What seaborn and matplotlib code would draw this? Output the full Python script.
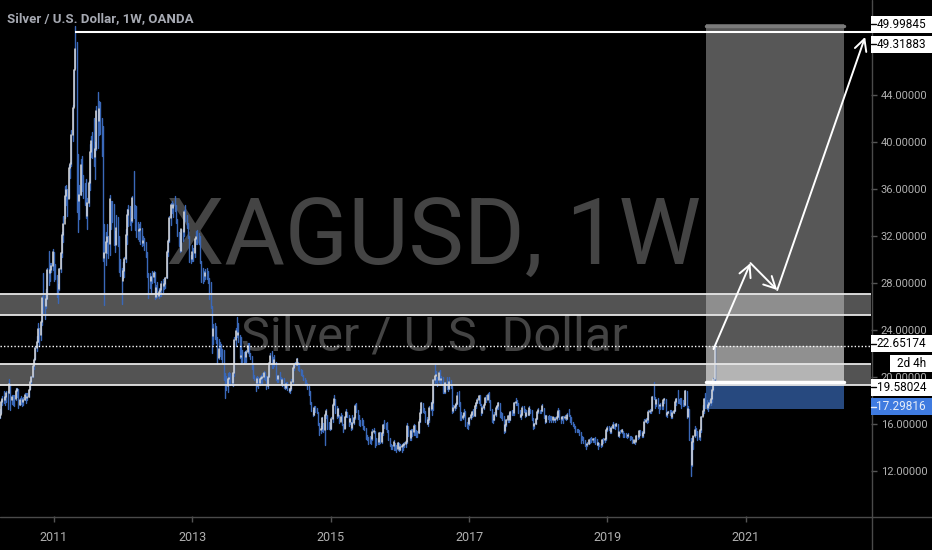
import numpy as np
import pandas as pd
import matplotlib
matplotlib.use('Agg')
import matplotlib.pyplot as plt
import matplotlib.dates as mdates
from matplotlib.patches import Rectangle
from matplotlib.lines import Line2D
import seaborn as sns

W, H = 932, 550

# weekly bars (low, high, close), one list per calendar year
year_starts = ['2010-03-22', '2011-01-03', '2012-01-02', '2013-01-07', '2014-01-06',
               '2015-01-05', '2016-01-04', '2017-01-02', '2018-01-01', '2019-01-07',
               '2020-01-06']

bars_2010 = [(16.5, 17.3, 16.8), (16.9, 18.0, 17.9), (17.6, 18.4, 18.1), (17.8, 18.8, 18.0),
             (17.6, 18.4, 18.3), (17.9, 18.8, 18.6), (17.3, 18.8, 18.6), (18.6, 19.8, 19.4),
             (17.2, 19.4, 18.0), (17.7, 18.5, 18.3), (17.6, 18.5, 18.3), (17.5, 18.5, 18.1),
             (18.0, 19.1, 18.8), (18.3, 19.1, 19.0), (17.4, 19.0, 17.6), (17.6, 18.2, 18.0),
             (17.7, 18.4, 18.0), (17.5, 18.2, 17.9), (17.6, 18.3, 18.0), (18.0, 18.6, 18.5),
             (17.8, 18.6, 18.2), (18.0, 18.6, 18.3), (18.3, 19.0, 18.9), (19.0, 19.7, 19.6),
             (19.4, 20.1, 20.0), (20.0, 21.0, 20.9), (20.7, 21.6, 21.4), (21.5, 22.6, 22.5),
             (22.2, 23.5, 23.0), (23.0, 24.6, 24.1), (22.6, 24.2, 23.6), (23.1, 24.8, 24.7),
             (24.4, 26.9, 26.7), (25.4, 28.8, 26.4), (24.9, 27.0, 26.0), (25.9, 27.5, 26.6),
             (26.6, 29.3, 29.1), (27.8, 30.7, 28.8), (28.2, 29.7, 29.1), (28.9, 29.7, 29.4),
             (29.1, 30.9, 30.6)]

bars_2011 = [(28.2, 30.6, 28.9), (28.3, 29.6, 28.7), (26.8, 28.7, 27.6), (26.3, 27.9, 27.5),
             (27.4, 29.3, 29.2), (28.9, 30.6, 30.5), (30.2, 32.3, 32.1), (31.5, 33.7, 33.0),
             (33.5, 36.2, 35.4), (34.6, 36.3, 35.9), (33.7, 36.0, 35.1), (35.2, 38.0, 37.8),
             (36.9, 38.3, 38.1), (37.9, 41.0, 40.6), (40.1, 43.1, 42.9), (43.0, 46.2, 46.1),
             (46.3, 49.8, 47.9), (34.0, 48.5, 35.3), (32.3, 39.0, 35.0), (33.4, 36.3, 35.5),
             (35.5, 38.5, 38.0), (35.8, 38.8, 36.0), (35.2, 37.2, 36.0), (34.6, 36.5, 35.6),
             (33.5, 36.8, 33.7), (32.6, 35.2, 34.8), (34.5, 36.7, 36.5), (35.9, 39.8, 39.1),
             (38.7, 40.5, 40.1), (38.6, 40.8, 39.6), (37.9, 42.0, 38.7), (36.8, 40.0, 39.4),
             (39.3, 43.0, 42.6), (39.5, 44.2, 41.8), (40.6, 43.5, 42.8), (40.7, 43.4, 41.9),
             (38.8, 42.0, 40.0), (29.9, 41.3, 30.1), (26.1, 33.0, 30.5), (29.5, 32.3, 31.5),
             (30.5, 33.0, 31.9), (30.1, 32.0, 31.3), (30.4, 35.5, 35.1), (32.6, 35.0, 34.4),
             (33.2, 35.0, 34.3), (31.2, 34.7, 31.8), (30.6, 32.4, 31.2), (31.3, 33.8, 32.7),
             (31.1, 33.6, 32.1), (28.9, 32.0, 29.3), (28.6, 30.0, 28.9), (26.2, 29.3, 28.2)]

bars_2012 = [(28.4, 29.8, 29.0), (28.5, 30.2, 30.0), (29.8, 32.6, 32.1), (31.3, 34.3, 33.8),
             (32.8, 34.6, 34.2), (32.9, 34.5, 33.4), (32.5, 33.5, 33.3), (33.2, 35.4, 35.2),
             (33.5, 37.5, 34.6), (32.5, 34.6, 33.7), (31.9, 34.5, 32.6), (31.7, 33.2, 32.4),
             (31.6, 33.0, 32.5), (31.3, 33.2, 32.6), (31.1, 32.7, 31.4), (31.2, 32.0, 31.6),
             (30.8, 31.8, 31.2), (30.2, 31.5, 30.4), (28.5, 30.6, 28.9), (26.7, 28.8, 28.6),
             (27.6, 28.8, 28.2), (27.1, 28.6, 28.5), (28.0, 29.0, 28.5), (28.1, 29.0, 28.8),
             (26.6, 28.9, 26.8), (26.7, 27.8, 27.6), (26.8, 28.1, 26.9), (26.7, 27.6, 27.2),
             (26.9, 27.6, 27.4), (26.9, 28.2, 27.9), (27.2, 28.3, 27.7), (27.5, 28.2, 27.9),
             (27.6, 28.5, 28.4), (28.4, 30.8, 30.6), (30.3, 31.7, 31.6), (31.5, 33.7, 33.5),
             (32.9, 34.8, 34.6), (33.9, 35.0, 34.4), (33.6, 34.8, 34.6), (34.1, 35.4, 34.6),
             (33.1, 34.6, 33.4), (32.0, 33.4, 32.2), (31.1, 32.3, 31.5), (30.6, 32.2, 30.7),
             (30.7, 32.6, 32.6), (31.6, 32.6, 32.3), (32.0, 34.2, 34.0), (33.3, 34.6, 33.7),
             (32.7, 33.8, 33.0), (31.8, 33.1, 31.9), (29.8, 32.0, 30.0), (29.7, 30.4, 30.0),
             (29.9, 31.2, 30.6)]

bars_2013 = [(29.9, 31.0, 30.5), (30.2, 31.8, 31.7), (31.3, 32.4, 31.9), (31.3, 32.5, 31.9),
             (31.3, 32.2, 31.7), (29.7, 32.0, 29.9), (28.1, 29.9, 28.8), (28.0, 29.3, 28.7),
             (28.2, 29.0, 28.6), (28.3, 29.2, 28.8), (28.3, 29.3, 28.7), (28.0, 29.0, 28.3),
             (26.6, 28.4, 27.5), (25.9, 28.1, 26.0), (22.0, 26.0, 23.5), (22.8, 24.5, 24.1),
             (23.2, 24.6, 23.8), (22.9, 24.3, 23.2), (21.1, 23.4, 21.6), (21.5, 23.2, 22.4),
             (21.8, 23.0, 22.4), (21.5, 22.8, 21.7), (21.2, 22.4, 21.6), (19.7, 22.3, 19.8),
             (18.2, 20.3, 19.7), (18.9, 20.1, 19.2), (18.7, 20.3, 19.8), (19.4, 20.4, 19.9),
             (19.3, 20.3, 19.6), (19.3, 20.2, 19.5), (19.2, 20.4, 20.3), (20.1, 23.4, 23.1),
             (22.6, 24.2, 23.9), (23.4, 25.1, 23.6), (23.0, 24.6, 23.7), (21.6, 23.6, 21.7),
             (21.2, 23.4, 21.8), (21.3, 22.3, 21.7), (21.2, 22.1, 21.7), (21.3, 22.2, 21.7),
             (21.3, 22.3, 22.1), (22.0, 22.9, 22.6), (21.8, 22.9, 22.0), (21.5, 22.0, 21.8),
             (20.7, 21.8, 20.9), (19.9, 21.0, 20.1), (19.7, 20.2, 19.9), (18.8, 20.0, 19.5),
             (19.2, 20.1, 19.8), (19.1, 20.0, 19.5), (19.3, 20.1, 19.8), (19.5, 20.2, 19.9)]

bars_2014 = [(19.4, 20.3, 20.0), (19.8, 20.5, 20.3), (19.7, 20.4, 19.9), (19.0, 20.1, 19.2),
             (19.1, 20.2, 20.0), (20.0, 21.3, 21.2), (21.3, 22.0, 21.8), (20.8, 22.2, 21.1),
             (20.8, 21.7, 21.1), (20.9, 21.9, 21.4), (19.7, 21.3, 19.9), (19.6, 20.1, 19.8),
             (19.6, 20.2, 20.1), (19.8, 20.4, 20.0), (19.4, 20.0, 19.4), (19.2, 19.9, 19.7),
             (19.1, 19.9, 19.2), (19.0, 19.4, 19.1), (19.1, 19.6, 19.4), (18.9, 19.6, 19.0),
             (18.7, 19.1, 18.8), (18.6, 19.1, 19.0), (18.9, 19.8, 19.6), (19.5, 20.9, 20.8),
             (20.6, 21.1, 21.0), (20.9, 21.3, 21.0), (21.0, 21.6, 21.5), (20.6, 21.3, 21.0),
             (20.5, 21.0, 20.6), (20.2, 20.7, 20.4), (20.1, 20.6, 20.4), (19.7, 20.2, 19.8),
             (19.3, 19.9, 19.4), (19.3, 19.7, 19.4), (19.0, 19.5, 19.2), (18.5, 19.2, 18.7),
             (17.7, 18.8, 17.8), (17.1, 17.9, 17.1), (16.7, 17.2, 16.8), (16.8, 17.5, 17.4),
             (17.0, 17.5, 17.3), (16.9, 17.4, 17.0), (15.9, 17.0, 16.1), (15.1, 16.1, 15.5),
             (15.2, 15.8, 15.6), (15.4, 16.6, 16.5), (15.3, 16.1, 15.5), (14.2, 16.9, 16.8),
             (16.5, 17.3, 17.1), (15.6, 16.8, 16.1), (15.6, 16.2, 15.9), (15.5, 16.1, 15.6)]

bars_2015 = [(15.6, 16.6, 16.4), (16.2, 17.8, 17.6), (17.6, 18.5, 18.1), (16.9, 18.1, 17.2),
             (16.5, 17.5, 16.7), (16.6, 17.4, 17.3), (16.1, 16.8, 16.2), (16.3, 16.9, 16.6),
             (15.9, 16.8, 16.0), (15.3, 16.0, 15.6), (15.7, 16.7, 16.6), (16.6, 17.3, 17.0),
             (16.6, 17.0, 16.8), (15.8, 16.8, 16.2), (16.0, 16.5, 16.4), (15.5, 16.2, 15.7),
             (15.6, 16.8, 16.1), (16.0, 16.6, 16.5), (16.4, 17.7, 17.5), (17.0, 17.8, 17.1),
             (16.4, 17.2, 16.7), (15.9, 16.8, 16.1), (15.8, 16.3, 16.1), (15.9, 16.5, 16.1),
             (15.6, 16.3, 15.7), (15.5, 15.8, 15.6), (14.7, 15.7, 15.4), (14.6, 15.1, 14.8),
             (14.3, 14.9, 14.7), (14.4, 15.0, 14.7), (14.3, 14.9, 14.7), (14.6, 15.6, 15.3),
             (15.2, 15.7, 15.4), (14.0, 15.4, 14.6), (14.2, 14.8, 14.6), (14.3, 14.8, 14.5),
             (14.3, 15.3, 15.2), (14.4, 15.3, 14.5), (14.4, 15.3, 15.2), (15.1, 16.0, 15.9),
             (15.7, 16.3, 15.8), (15.6, 16.1, 15.8), (15.3, 16.2, 15.5), (14.6, 15.5, 14.7),
             (14.1, 14.8, 14.2), (13.9, 14.3, 14.1), (13.9, 14.2, 14.1), (13.8, 14.6, 14.5),
             (13.8, 14.4, 13.9), (13.6, 14.2, 13.9), (13.8, 14.5, 14.4), (13.7, 14.4, 13.8)]

bars_2016 = [(13.8, 14.3, 14.0), (13.6, 14.3, 14.1), (13.8, 14.4, 14.2), (14.0, 14.5, 14.3),
             (14.0, 14.6, 14.5), (14.4, 16.1, 15.8), (15.0, 15.8, 15.3), (14.6, 15.5, 14.8),
             (14.6, 15.6, 15.4), (15.0, 15.6, 15.3), (15.1, 16.0, 15.8), (15.1, 15.9, 15.2),
             (14.9, 15.5, 15.2), (14.9, 15.4, 15.2), (15.2, 16.4, 16.2), (16.2, 17.3, 16.9),
             (16.9, 17.9, 17.8), (17.0, 17.8, 17.1), (16.9, 17.4, 17.0), (16.2, 17.1, 16.4),
             (16.0, 16.6, 16.0), (15.8, 16.4, 16.3), (16.2, 17.5, 17.4), (17.2, 17.9, 17.3),
             (16.8, 18.0, 17.8), (17.2, 19.8, 19.7), (19.5, 21.1, 20.1), (19.6, 20.5, 20.2),
             (19.2, 20.0, 19.7), (19.6, 20.5, 20.3), (19.5, 20.6, 19.7), (19.4, 20.1, 19.8),
             (18.6, 20.0, 18.8), (18.6, 19.2, 18.7), (18.6, 19.6, 19.5), (19.0, 20.0, 19.2),
             (18.8, 19.3, 19.0), (19.0, 20.0, 19.6), (19.1, 19.7, 19.2), (16.9, 19.2, 17.1),
             (17.0, 17.6, 17.4), (17.2, 17.7, 17.5), (17.4, 17.9, 17.7), (17.7, 18.7, 18.4),
             (17.5, 18.8, 17.8), (16.3, 17.9, 16.6), (16.3, 17.0, 16.5), (16.4, 16.9, 16.7),
             (16.6, 17.3, 16.9), (15.8, 17.1, 16.0), (15.7, 16.2, 16.0), (15.6, 16.5, 16.0)]

bars_2017 = [(15.9, 16.6, 16.5), (16.4, 16.9, 16.8), (16.6, 17.1, 17.0), (16.7, 17.3, 16.7),
             (16.7, 17.6, 17.5), (17.4, 17.9, 17.8), (17.8, 18.2, 18.0), (17.8, 18.5, 18.4),
             (17.6, 18.5, 17.6), (16.8, 17.7, 16.9), (16.9, 17.5, 17.4), (17.3, 17.8, 17.6),
             (17.9, 18.3, 18.2), (17.9, 18.5, 18.0), (18.1, 18.6, 18.5), (17.9, 18.7, 18.0),
             (17.2, 18.0, 17.3), (16.2, 17.3, 16.3), (16.1, 16.4, 16.3), (16.3, 17.0, 16.8),
             (16.7, 17.5, 17.4), (17.3, 17.6, 17.5), (17.3, 17.9, 17.8), (16.6, 17.8, 16.7),
             (16.5, 17.0, 16.6), (16.3, 16.9, 16.6), (15.2, 16.7, 15.4), (15.3, 16.0, 15.9),
             (15.8, 16.4, 16.3), (16.2, 16.8, 16.7), (16.2, 16.9, 16.3), (16.3, 17.1, 17.0),
             (16.8, 17.2, 17.0), (16.8, 17.2, 16.9), (16.8, 17.9, 17.8), (17.6, 18.2, 17.9),
             (17.6, 18.0, 17.7), (16.9, 17.8, 17.0), (16.6, 17.2, 16.6), (16.4, 16.9, 16.8),
             (16.8, 17.5, 17.4), (17.0, 17.5, 17.1), (16.6, 17.3, 16.7), (16.7, 17.2, 16.9),
             (16.8, 17.2, 16.8), (16.8, 17.5, 17.4), (16.9, 17.3, 17.0), (16.3, 17.2, 16.3),
             (15.6, 16.5, 15.8), (15.7, 16.1, 16.0), (16.0, 16.5, 16.4), (16.4, 17.1, 17.0)]

bars_2018 = [(16.9, 17.4, 17.2), (16.9, 17.2, 17.1), (16.9, 17.2, 17.1), (17.1, 17.7, 17.5),
             (16.5, 17.4, 16.6), (16.1, 16.8, 16.2), (16.2, 16.8, 16.7), (16.4, 16.7, 16.6),
             (16.2, 16.8, 16.6), (16.3, 16.7, 16.5), (16.2, 16.7, 16.3), (16.2, 16.6, 16.6),
             (16.3, 16.6, 16.3), (16.2, 16.6, 16.4), (16.3, 17.0, 16.6), (16.6, 17.4, 17.1),
             (16.4, 17.2, 16.5), (16.1, 16.6, 16.4), (16.3, 16.7, 16.6), (16.1, 16.7, 16.5),
             (16.4, 16.8, 16.6), (16.3, 16.6, 16.4), (16.4, 16.9, 16.8), (16.7, 17.3, 16.8),
             (16.2, 16.8, 16.5), (16.0, 16.6, 16.1), (15.8, 16.2, 16.0), (15.7, 16.0, 15.8),
             (15.3, 15.8, 15.5), (15.3, 15.6, 15.4), (15.3, 15.6, 15.4), (15.1, 15.5, 15.3),
             (14.4, 15.3, 14.8), (14.6, 15.0, 14.8), (14.4, 14.9, 14.6), (14.1, 14.6, 14.2),
             (13.9, 14.3, 14.2), (14.1, 14.5, 14.3), (14.3, 14.7, 14.6), (14.4, 14.8, 14.6),
             (14.5, 14.9, 14.6), (14.5, 14.8, 14.7), (14.5, 14.8, 14.7), (14.3, 14.9, 14.6),
             (14.2, 14.7, 14.2), (13.9, 14.5, 14.4), (14.1, 14.4, 14.2), (14.0, 14.3, 14.2),
             (14.1, 14.7, 14.6), (14.4, 14.8, 14.6), (14.5, 14.8, 14.7), (14.6, 15.6, 15.5),
             (15.4, 15.8, 15.7)]

bars_2019 = [(15.5, 15.8, 15.6), (15.2, 15.7, 15.3), (15.2, 15.8, 15.7), (15.7, 16.2, 15.9),
             (15.7, 16.0, 15.8), (15.6, 15.9, 15.8), (15.8, 16.1, 16.0), (15.0, 16.0, 15.0),
             (14.9, 15.3, 15.3), (15.2, 15.5, 15.3), (15.2, 15.6, 15.5), (14.9, 15.4, 15.1),
             (14.9, 15.2, 15.1), (14.9, 15.2, 15.0), (14.8, 15.1, 15.0), (14.9, 15.2, 15.1),
             (14.6, 15.0, 14.9), (14.7, 15.0, 14.9), (14.4, 14.9, 14.4), (14.4, 14.6, 14.6),
             (14.3, 14.6, 14.5), (14.6, 15.1, 15.0), (14.7, 15.1, 14.9), (14.8, 15.5, 15.4),
             (15.1, 15.5, 15.3), (14.9, 15.4, 15.0), (14.9, 15.3, 15.2), (15.2, 16.4, 16.2),
             (16.2, 16.5, 16.3), (16.1, 16.5, 16.3), (16.2, 17.2, 17.0), (16.9, 17.3, 17.1),
             (16.9, 17.2, 17.1), (17.2, 18.4, 18.3), (18.1, 19.6, 18.2), (17.4, 18.3, 17.7),
             (17.5, 18.1, 18.0), (17.4, 18.2, 17.5), (16.9, 17.6, 17.5), (17.3, 17.8, 17.6),
             (17.3, 17.9, 17.5), (17.3, 18.0, 18.0), (17.8, 18.2, 18.1), (16.7, 18.1, 16.8),
             (16.6, 17.0, 16.9), (16.9, 17.1, 17.0), (16.8, 17.2, 17.0), (16.5, 17.2, 16.6),
             (16.5, 17.1, 16.9), (16.9, 17.2, 17.1), (17.1, 18.0, 17.9), (17.6, 18.2, 18.1)]

bars_2020 = [(17.8, 18.9, 18.1), (17.8, 18.1, 18.0), (17.7, 18.2, 18.0), (17.4, 18.2, 18.0),
             (17.5, 18.0, 17.8), (17.5, 17.8, 17.6), (17.6, 18.9, 18.8), (16.5, 18.8, 16.6),
             (16.7, 17.5, 17.3), (14.6, 17.3, 14.8), (11.6, 14.8, 12.5), (12.4, 14.8, 14.5),
             (13.9, 15.0, 15.0), (14.9, 15.8, 15.5), (15.1, 15.7, 15.3), (14.6, 15.4, 15.2),
             (14.7, 15.4, 14.9), (14.6, 15.6, 15.5), (15.3, 16.7, 16.6), (16.8, 17.6, 17.1),
             (16.9, 18.2, 18.1), (17.4, 18.6, 17.5), (17.3, 18.0, 17.4), (17.1, 17.9, 17.6),
             (17.5, 18.0, 17.8), (17.6, 18.4, 18.1), (17.9, 19.1, 18.9), (18.8, 19.9, 19.8),
             (19.7, 22.9, 22.65)]

all_bars = [bars_2010, bars_2011, bars_2012, bars_2013, bars_2014, bars_2015,
            bars_2016, bars_2017, bars_2018, bars_2019, bars_2020]

title = 'Silver / U.S. Dollar, 1W, OANDA'
watermark = 'XAGUSD, 1W'
watermark_sub = 'Silver / U.S. Dollar'
price_ticks = [12, 16, 20, 24, 28, 32, 36, 40, 44]
year_ticks = [2011, 2013, 2015, 2017, 2019, 2021]

zone_upper = (25.27, 27.05)
zone_lower = (19.29, 21.10)
ath_level = 49.31883
ath_date = '2011-04-25'
last_price = 22.65174
countdown = '2d 4h'
entry, target, stop = 19.58024, 49.99845, 17.29816
box_dates = ('2020-06-03', '2022-06-04')
path_dates = ['2020-07-14', '2021-01-25', '2021-06-15', '2022-09-22']
path_prices = [22.37, 29.68, 27.39, 48.91]
x_range = ('2010-03-24', '2022-10-23')
y_range = (8.175, 52.053)

UP = '#dcdcdc'
DOWN = '#3a68b8'
GREY = '#b0b0b0'
AXLINE = '#4a4a4a'

rows = []
for start, bars in zip(year_starts, all_bars):
    dates = pd.date_range(start, periods=len(bars), freq='7D')
    for d, (lo, hi, cl) in zip(dates, bars):
        rows.append((d, lo, hi, cl))
df = pd.DataFrame(rows, columns=['date', 'low', 'high', 'close'])
df['week'] = np.arange(len(df))
df['open'] = df['close'].shift(1).fillna(df['low'])

wicks = df.melt(id_vars=['date', 'week'], value_vars=['low', 'high'], value_name='price')
ups = df[df['close'] >= df['open']]
bodies = ups.melt(id_vars=['date', 'week'], value_vars=['open', 'close'], value_name='price')

sns.set_theme(style='dark', rc={'axes.facecolor': 'black', 'figure.facecolor': 'black',
                                'savefig.facecolor': 'black'})
plt.rcParams['font.family'] = ['Roboto', 'DejaVu Sans']

fig = plt.figure(figsize=(W / 100, H / 100), dpi=100)
ax = fig.add_axes([0, 34 / H, 871 / W, 516 / H])
ax.set_facecolor('black')

sns.lineplot(data=wicks, x='date', y='price', units='week', estimator=None,
             color=DOWN, lw=1.0, ax=ax, zorder=5)
sns.lineplot(data=bodies, x='date', y='price', units='week', estimator=None,
             color=UP, lw=1.1, ax=ax, zorder=5.5)

x0, x1 = mdates.date2num(pd.to_datetime(list(x_range)))
ax.set_xlim(x0, x1)
ax.set_ylim(*y_range)
ax.set_xlabel('')
ax.set_ylabel('')
ax.grid(False)
for s in ax.spines.values():
    s.set_visible(False)

# axes ticks
ax.yaxis.tick_right()
ax.set_yticks(price_ticks)
ax.set_yticklabels([f'{v:.5f}' for v in price_ticks])
ax.set_xticks(mdates.date2num(pd.to_datetime([f'{y}-01-01' for y in year_ticks])))
ax.set_xticklabels([str(y) for y in year_ticks])
ax.tick_params(axis='y', colors='#555555', labelcolor=GREY, length=4, width=1, pad=3,
               labelsize=8, right=True, left=False)
ax.tick_params(axis='x', colors='#555555', labelcolor=GREY, length=4, width=1, pad=7,
               labelsize=9, bottom=True)

# watermark
ax.text(434 / W, 1 - 265 / H, watermark, transform=fig.transFigure, ha='center',
        va='baseline', fontsize=67, color='#444444', zorder=1, clip_on=False)
ax.text(434 / W, 1 - 351 / H, watermark_sub, transform=fig.transFigure, ha='center',
        va='baseline', fontsize=35, color='#444444', zorder=1, clip_on=False)

# support / resistance zones
for lo, hi in (zone_upper, zone_lower):
    ax.axhspan(lo, hi, color='white', alpha=0.33, lw=0, zorder=2)
    ax.axhline(lo, color='#e6e6e6', lw=1.3, zorder=6)
    ax.axhline(hi, color='#e6e6e6', lw=1.3, zorder=6)

ax.hlines(ath_level, mdates.date2num(pd.Timestamp(ath_date)), x1, color='white',
          lw=1.5, zorder=6)
ax.axhline(last_price, color='white', lw=1.0, ls=(0, (1, 1.5)), zorder=6)

# long position tool
b0, b1 = mdates.date2num(pd.to_datetime(list(box_dates)))
ax.add_patch(Rectangle((b0, entry), b1 - b0, target - entry, facecolor='white',
                       alpha=0.345, lw=0, zorder=3))
ax.add_patch(Rectangle((b0, entry), b1 - b0, last_price - entry, facecolor='white',
                       alpha=0.345, lw=0, zorder=3))
ax.add_patch(Rectangle((b0, stop), b1 - b0, entry - stop, facecolor='#27497f',
                       lw=0, zorder=3))
ax.plot([b0, b1], [target - 0.12] * 2, color='#7a7a7a', lw=2.5, zorder=4)
ax.plot([b0, b1], [entry, entry], color='white', lw=2.5, zorder=6)

# projected path
px = mdates.date2num(pd.to_datetime(path_dates))
for i in range(len(px) - 1):
    ax.annotate('', xy=(px[i + 1], path_prices[i + 1]), xytext=(px[i], path_prices[i]),
                arrowprops=dict(arrowstyle='->,head_length=0.7,head_width=0.36',
                                color='white', lw=1.4, shrinkA=0, shrinkB=0),
                zorder=8, annotation_clip=False)

# scale lines
ax.add_line(Line2D([871.5 / W] * 2, [0, 1], transform=fig.transFigure, color=AXLINE,
                   lw=1, zorder=1, clip_on=False))
ax.add_line(Line2D([0, 1], [1 - 516.5 / H] * 2, transform=fig.transFigure, color=AXLINE,
                   lw=1, zorder=1, clip_on=False))

# price labels on the scale
fig.canvas.draw()


def price_to_px(p):
    return H - ax.transData.transform((x0, p))[1]


labels = [
    (f'{target:.5f}', target, 0, 'white', 'black', 871),
    (f'{ath_level:.5f}', ath_level, 12, 'white', 'black', 871),
    (f'{last_price:.5f}', last_price, -2, 'white', 'black', 871),
    (countdown, last_price, 18, 'white', 'black', 890),
    (f'{entry:.5f}', entry, 5.5, 'white', 'black', 871),
    (f'{stop:.5f}', stop, -2, '#3f7be0', '#e8eef8', 871),
]
bh = 17
for txt, p, dy, bg, fg, xl in labels:
    yc = price_to_px(p) + dy
    ax.add_patch(Rectangle((xl / W, 1 - (yc + bh / 2) / H), (W - xl) / W, bh / H,
                           transform=fig.transFigure, facecolor=bg, lw=0, zorder=20,
                           clip_on=False))
    if xl == 871:
        ax.add_line(Line2D([871 / W, 876 / W], [1 - yc / H] * 2, transform=fig.transFigure,
                           color=fg, lw=1, zorder=21, clip_on=False))
    ax.text((W - 6) / W, 1 - yc / H, txt, transform=fig.transFigure, ha='right',
            va='center', fontsize=8.5, color=fg, zorder=22, clip_on=False)

fig.text(7 / W, 1 - 19 / H, title, color='#a6a9b2', fontsize=9.5, fontweight='bold',
         va='center', ha='left')

fig.savefig('out.png', dpi=100, facecolor='black')
